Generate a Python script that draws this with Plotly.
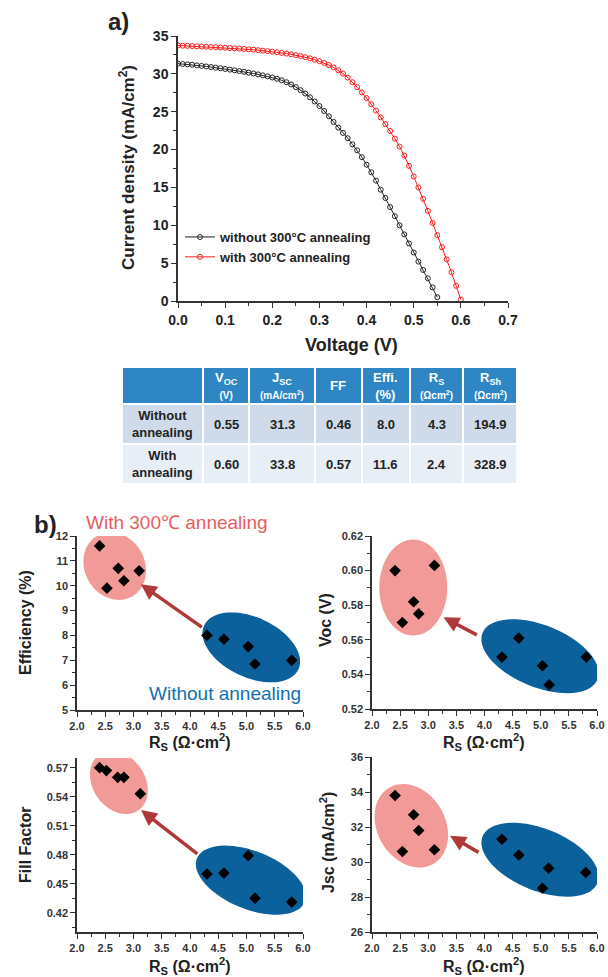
import math
import plotly.graph_objects as go

# ---------------- data: J-V curves ----------------
voltage = [0.00, 0.01, 0.02, 0.03, 0.04, 0.05, 0.06, 0.07, 0.08, 0.09,
           0.10, 0.11, 0.12, 0.13, 0.14, 0.15, 0.16, 0.17, 0.18, 0.19,
           0.20, 0.21, 0.22, 0.23, 0.24, 0.25, 0.26, 0.27, 0.28, 0.29,
           0.30, 0.31, 0.32, 0.33, 0.34, 0.35, 0.36, 0.37, 0.38, 0.39,
           0.40, 0.41, 0.42, 0.43, 0.44, 0.45, 0.46, 0.47, 0.48, 0.49,
           0.50, 0.51, 0.52, 0.53, 0.54, 0.55, 0.56, 0.57, 0.58, 0.59, 0.60]
current_without = [31.35, 31.30, 31.25, 31.20, 31.12, 31.05, 30.98, 30.90, 30.82, 30.74,
                   30.65, 30.56, 30.47, 30.37, 30.27, 30.16, 30.05, 29.93, 29.80, 29.67,
                   29.52, 29.35, 29.15, 28.90, 28.60, 28.25, 27.85, 27.40, 26.90, 26.35,
                   25.75, 25.10, 24.40, 23.65, 22.90, 22.20, 21.50, 20.70, 19.90, 19.00,
                   18.00, 17.00, 15.90, 14.70, 13.60, 12.40, 11.20, 10.00, 8.80, 7.60,
                   6.40, 5.20, 4.10, 3.00, 1.80, 0.50]
current_with = [33.75, 33.72, 33.70, 33.67, 33.64, 33.61, 33.58, 33.55, 33.52, 33.48,
                33.45, 33.41, 33.37, 33.33, 33.29, 33.24, 33.19, 33.13, 33.07, 33.00,
                32.93, 32.85, 32.77, 32.68, 32.58, 32.47, 32.35, 32.20, 32.05, 31.87,
                31.67, 31.44, 31.17, 30.85, 30.47, 30.03, 29.50, 28.90, 28.25, 27.55,
                26.80, 26.00, 25.15, 24.25, 23.35, 22.45, 21.45, 20.40, 19.20, 17.85,
                16.45, 15.00, 13.50, 11.90, 10.30, 8.70, 7.10, 5.50, 3.80, 2.00, 0.20]
series_names = ["without 300°C annealing", "with 300°C annealing"]

# ---------------- data: table ----------------
table_header = ["",
                "V<sub>OC</sub><br><span style='font-size:10px'>(V)</span>",
                "J<sub>SC</sub><br><span style='font-size:10px'>(mA/cm<sup>2</sup>)</span>",
                "FF",
                "Effi.<br>(%)",
                "R<sub>S</sub><br><span style='font-size:10px'>(Ωcm<sup>2</sup>)</span>",
                "R<sub>Sh</sub><br><span style='font-size:10px'>(Ωcm<sup>2</sup>)</span>"]
table_rows = ["Without<br>annealing", "With<br>annealing"]
table_without = ["0.55", "31.3", "0.46", "8.0", "4.3", "194.9"]
table_with = ["0.60", "33.8", "0.57", "11.6", "2.4", "328.9"]

# ---------------- data: scatter panels ----------------
rs_with_eff = [2.40, 2.53, 2.73, 2.83, 3.10]
eff_with = [11.6, 9.9, 10.7, 10.2, 10.6]
rs_without_eff = [4.30, 4.60, 5.03, 5.15, 5.80]
eff_without = [8.0, 7.85, 7.55, 6.85, 7.0]

rs_with_voc = [2.41, 2.54, 2.74, 2.83, 3.11]
voc_with = [0.600, 0.570, 0.582, 0.575, 0.603]
rs_without_voc = [4.31, 4.61, 5.03, 5.15, 5.81]
voc_without = [0.550, 0.561, 0.545, 0.534, 0.550]

rs_with_ff = [2.40, 2.52, 2.72, 2.83, 3.12]
ff_with = [0.570, 0.567, 0.560, 0.560, 0.543]
rs_without_ff = [4.30, 4.60, 5.03, 5.15, 5.80]
ff_without = [0.460, 0.461, 0.479, 0.435, 0.431]

rs_with_jsc = [2.41, 2.54, 2.74, 2.83, 3.11]
jsc_with = [33.8, 30.6, 32.7, 31.8, 30.7]
rs_without_jsc = [4.31, 4.61, 5.03, 5.14, 5.80]
jsc_without = [31.3, 30.4, 28.5, 29.65, 29.4]

# ---------------- styling ----------------
W, H = 608, 977
FONT = "Liberation Sans, Arial, sans-serif"
AX = "#333333"
PINK = "#f29a98"
BLUE = "#0a619b"
ARROW = "#b03838"


def px(x):
    return x / W


def py(y):
    return 1 - y / H


fig = go.Figure()

fig.add_trace(go.Scatter(
    x=voltage[:len(current_without)], y=current_without, name=series_names[0],
    mode="lines+markers", line=dict(color="#222222", width=1),
    marker=dict(symbol="circle-open", size=5, color="#222222", line=dict(width=1)),
    xaxis="x", yaxis="y"))
fig.add_trace(go.Scatter(
    x=voltage[:len(current_with)], y=current_with, name=series_names[1],
    mode="lines+markers", line=dict(color="#ff1a1a", width=1),
    marker=dict(symbol="circle-open", size=5, color="#ff1a1a", line=dict(width=1)),
    xaxis="x", yaxis="y"))

panels = [
    ("x2", "y2", rs_with_eff, eff_with, rs_without_eff, eff_without),
    ("x3", "y3", rs_with_voc, voc_with, rs_without_voc, voc_without),
    ("x4", "y4", rs_with_ff, ff_with, rs_without_ff, ff_without),
    ("x5", "y5", rs_with_jsc, jsc_with, rs_without_jsc, jsc_without),
]
for xa, ya, rx1, v1, rx2, v2 in panels:
    fig.add_trace(go.Scatter(x=rx1 + rx2, y=v1 + v2, mode="markers", showlegend=False,
                             marker=dict(symbol="diamond", size=9, color="black"),
                             xaxis=xa, yaxis=ya))

common = dict(showline=True, linecolor=AX, linewidth=1.5, ticks="outside", ticklen=5,
              tickwidth=1.3, tickcolor=AX, showgrid=False, zeroline=False,
              automargin=False)

big_tick = dict(family=FONT, size=14, color="#222222", weight="bold")
small_tick = dict(family=FONT, size=11, color="#333333", weight="bold")

bx1 = [px(77), px(303)]
bx2 = [px(372), px(597)]

layout_axes = dict(
    xaxis=dict(domain=[px(178), px(508)], range=[0, 0.7], dtick=0.1, tickformat=".1f",
               anchor="y", tickfont=big_tick,
               minor=dict(ticks="outside", ticklen=3, dtick=0.05, tickcolor=AX), **common),
    yaxis=dict(domain=[py(301), py(36)], range=[0, 35], dtick=5, anchor="x",
               tickfont=big_tick,
               minor=dict(ticks="outside", ticklen=3, dtick=2.5, tickcolor=AX), **common),
    xaxis2=dict(domain=bx1, range=[2, 6], dtick=0.5, tickformat=".1f", anchor="y2",
                tickfont=small_tick,
                minor=dict(ticks="outside", ticklen=3, dtick=0.25, tickcolor=AX), **common),
    yaxis2=dict(domain=[py(710), py(536)], range=[5, 12], dtick=1, anchor="x2",
                tickfont=small_tick,
                minor=dict(ticks="outside", ticklen=3, dtick=0.5, tickcolor=AX), **common),
    xaxis3=dict(domain=bx2, range=[2, 6], dtick=0.5, tickformat=".1f", anchor="y3",
                tickfont=small_tick,
                minor=dict(ticks="outside", ticklen=3, dtick=0.25, tickcolor=AX), **common),
    yaxis3=dict(domain=[py(709), py(536)], range=[0.52, 0.62], dtick=0.02, tickformat=".2f",
                anchor="x3", tickfont=small_tick,
                minor=dict(ticks="outside", ticklen=3, dtick=0.01, tickcolor=AX), **common),
    xaxis4=dict(domain=bx1, range=[2, 6], dtick=0.5, tickformat=".1f", anchor="y4",
                tickfont=small_tick,
                minor=dict(ticks="outside", ticklen=3, dtick=0.25, tickcolor=AX), **common),
    yaxis4=dict(domain=[py(932), py(758)], range=[0.40, 0.58], tick0=0.42, dtick=0.03,
                tickformat=".2f", anchor="x4", tickfont=small_tick,
                minor=dict(ticks="outside", ticklen=3, tick0=0.42, dtick=0.015, tickcolor=AX),
                **common),
    xaxis5=dict(domain=bx2, range=[2, 6], dtick=0.5, tickformat=".1f", anchor="y5",
                tickfont=small_tick,
                minor=dict(ticks="outside", ticklen=3, dtick=0.25, tickcolor=AX), **common),
    yaxis5=dict(domain=[py(932), py(757)], range=[26, 36], dtick=2, anchor="x5",
                tickfont=small_tick,
                minor=dict(ticks="outside", ticklen=3, dtick=1, tickcolor=AX), **common),
)


# ellipse helper: centre in data units, semi-axes in pixels, tilt in degrees (screen)
def ellipse_path(cx, cy, a, b, theta, sx, sy, n=72):
    th = math.radians(theta)
    pts = []
    for i in range(n):
        t = 2 * math.pi * i / n
        dx = a * math.cos(t) * math.cos(th) - b * math.sin(t) * math.sin(th)
        dy = a * math.cos(t) * math.sin(th) + b * math.sin(t) * math.cos(th)
        pts.append((cx + dx / sx, cy - dy / sy))
    return "M " + " L ".join(f"{x:.4f},{y:.5f}" for x, y in pts) + " Z"


# (xref, yref, px-per-unit x, px-per-unit y, pink ellipse, blue ellipse, arrow head, arrow tail)
panel_deco = [
    ("x2", "y2", 56.5, 174 / 7, (2.667, 10.79, 35, 30, 60), (5.085, 7.52, 52, 30, 25),
     (3.13, 10.06), (4.235, 8.29)),
    ("x3", "y3", 56.25, 1730, (2.734, 0.5902, 48, 34, 90), (4.987, 0.5505, 62, 31, 22),
     (3.27, 0.573), (3.89, 0.5624)),
    ("x4", "y4", 56.4, 174 / 0.18, (2.741, 0.5547, 34, 26, 55), (5.076, 0.4536, 58, 29, 22),
     (3.135, 0.5262), (4.156, 0.4797)),
    ("x5", "y5", 56.25, 17.5, (2.699, 32.07, 44, 34, 60), (4.987, 30.13, 62, 31, 22),
     (3.387, 31.5), (3.92, 30.5)),
]

shapes = []
annotations = []
for xr, yr, sx, sy, pk, bl, head, tail in panel_deco:
    for (cx, cy, a, b, th), col in ((pk, PINK), (bl, BLUE)):
        shapes.append(dict(type="path", xref=xr, yref=yr, layer="below",
                           path=ellipse_path(cx, cy, a, b, th, sx, sy),
                           fillcolor=col, line=dict(width=0)))
    annotations.append(dict(x=head[0], y=head[1], ax=tail[0], ay=tail[1],
                            xref=xr, yref=yr, axref=xr, ayref=yr, text="",
                            showarrow=True, arrowhead=2, arrowsize=0.9, arrowwidth=3.5,
                            arrowcolor=ARROW))


def label(text, x, y, size, color="#222222", angle=0, bold=True):
    annotations.append(dict(text=text, x=px(x), y=py(y), xref="paper", yref="paper",
                            showarrow=False, textangle=angle, xanchor="center",
                            yanchor="middle",
                            font=dict(family=FONT, size=size, color=color,
                                      weight="bold" if bold else "normal")))


# ---------------- table (drawn as cells) ----------------
TAB_X0, TAB_Y0 = 122, 367
col_widths = [81, 46, 66, 47, 48, 53, 54]
row_heights = [37, 40, 40]
row_fills = ["#2e86c4", "#cfdbea", "#e8eef6"]
table_grid = [table_header] + [[r] + vals for r, vals in
                               zip(table_rows, [table_without, table_with])]
y_edge = TAB_Y0
for ri, (rh, fill) in enumerate(zip(row_heights, row_fills)):
    x_edge = TAB_X0
    for ci, cw in enumerate(col_widths):
        shapes.append(dict(type="rect", xref="paper", yref="paper",
                           x0=px(x_edge + 1), x1=px(x_edge + cw - 1),
                           y0=py(y_edge + rh - 1), y1=py(y_edge + 1),
                           fillcolor=fill, line=dict(width=0), layer="below"))
        txt = table_grid[ri][ci]
        if txt:
            label(txt, x_edge + cw / 2, y_edge + rh / 2, 13,
                  color="white" if ri == 0 else "#222222")
        x_edge += cw
    y_edge += rh

label("<b>a</b>)", 118, 22, 24)
label("<b>b</b>)", 45, 524, 24)
label("Current density (mA/cm<sup>2</sup>)", 127, 168, 17, angle=-90)
label("Voltage (V)", 351, 345, 18)
label("Efficiency (%)", 25, 623, 16, angle=-90)
label("Voc (V)", 325, 620, 16, angle=-90)
label("Fill Factor", 25, 845, 16, angle=-90)
label("Jsc (mA/cm<sup>2</sup>)", 327, 843, 16, angle=-90)
for cx, cy in ((190, 742), (484, 742), (190, 966), (484, 966)):
    label("R<sub>S</sub> (Ω·cm<sup>2</sup>)", cx, cy, 16)
label("With 300℃ annealing", 177, 522, 19, color="#e85c5e", bold=False)
label("Without annealing", 225, 693, 19, color="#1170ad", bold=False)

fig.update_layout(
    width=W, height=H, margin=dict(l=0, r=0, t=0, b=0, autoexpand=False),
    paper_bgcolor="white", plot_bgcolor="white",
    font=dict(family=FONT, color="#222222"),
    showlegend=True,
    legend=dict(x=px(180), y=py(222), xanchor="left", yanchor="top",
                bgcolor="rgba(0,0,0,0)", tracegroupgap=0, itemwidth=30,
                font=dict(family=FONT, size=13, color="#222222", weight="bold")),
    shapes=shapes, annotations=annotations,
    **layout_axes)

fig.write_html("out.html", config={"displayModeBar": False},
               post_script="document.body.style.margin='0px';")
